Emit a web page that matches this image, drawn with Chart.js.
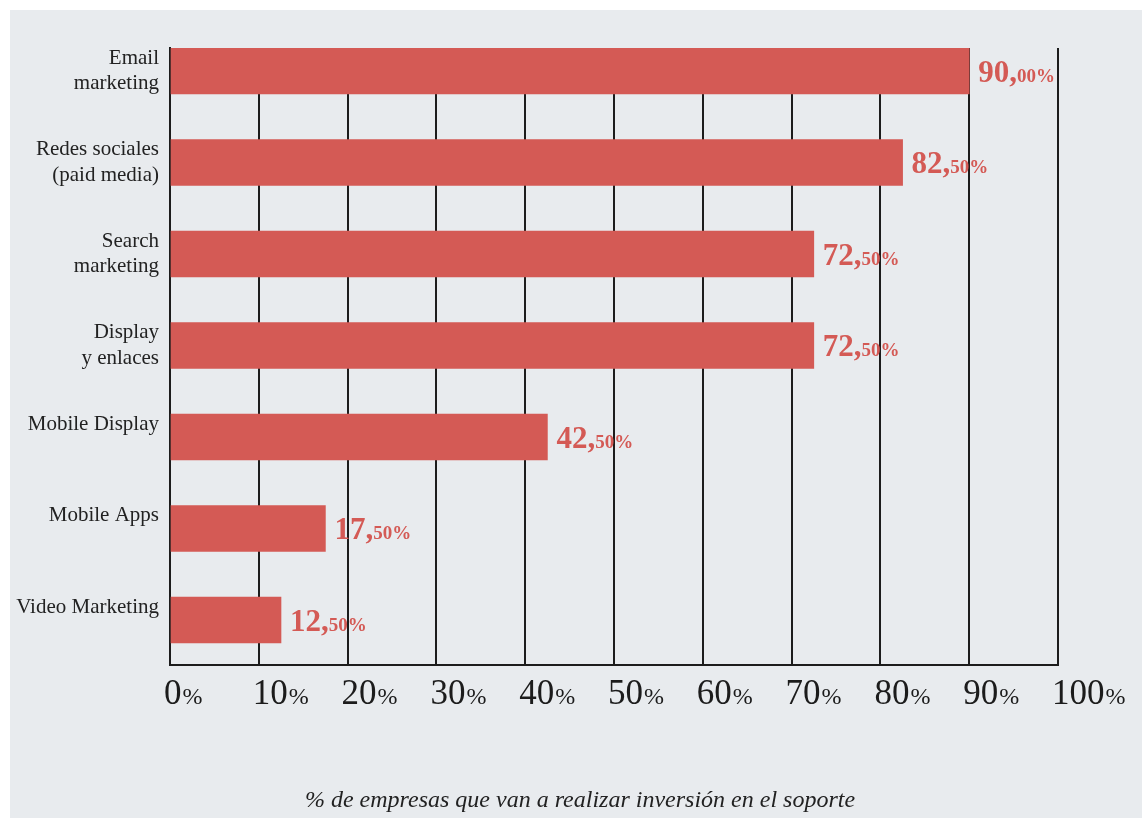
<!DOCTYPE html>
<html>
<head>
<meta charset="utf-8">
<script src="https://cdn.jsdelivr.net/npm/chart.js@4"></script>
<style>
  html, body { margin: 0; padding: 0; background: #fff; }
  #myChart { position: absolute; left: 10px; top: 10px; background: #e8ebee; }
</style>
</head>
<body>
<canvas id="myChart" width="1132" height="808"></canvas>
<script>
const canvas = document.getElementById('myChart')

// categorias (de arriba a abajo) y porcentaje de empresas
const categories = [
    ['Email', 'marketing'],
    ['Redes sociales', '(paid media)'],
    ['Search', 'marketing'],
    ['Display', 'y enlaces'],
    ['Mobile Display', ''],
    ['Mobile Apps', ''],
    ['Video Marketing', '']
]
const values = [90, 82.5, 72.5, 72.5, 42.5, 17.5, 12.5]
const xTicks = [0, 10, 20, 30, 40, 50, 60, 70, 80, 90, 100]
const axisTitle = '% de empresas que van a realizar inversión en el soporte'

const red = '#d45a55'
const ink = '#1c1c1c'
const serif = '"Liberation Serif", "DejaVu Serif", serif'

// etiquetas de valor: parte entera grande, decimales pequeños ("90,00%")
const valueLabels = {
    id: 'valueLabels',
    afterDatasetsDraw(chart) {
        const ctx = chart.ctx
        const meta = chart.getDatasetMeta(0)
        ctx.save()
        ctx.fillStyle = red
        ctx.textBaseline = 'alphabetic'
        ctx.textAlign = 'left'
        meta.data.forEach((bar, i) => {
            const [ent, dec] = values[i].toFixed(2).split('.')
            const x = bar.x + 9
            const y = bar.y + 11
            ctx.font = `bold 31px ${serif}`
            ctx.fillText(ent + ',', x, y)
            const w = ctx.measureText(ent + ',').width
            ctx.font = `bold 19px ${serif}`
            ctx.fillText(dec + '%', x + w, y)
        })
        ctx.restore()
    }
}

// ticks del eje x con el signo % mas pequeño, y titulo del eje
const xTickLabels = {
    id: 'xTickLabels',
    afterDraw(chart) {
        const ctx = chart.ctx
        const scale = chart.scales.x
        const y = chart.chartArea.bottom + 39
        ctx.save()
        ctx.fillStyle = ink
        ctx.textBaseline = 'alphabetic'
        ctx.textAlign = 'left'
        xTicks.forEach(t => {
            const x = scale.getPixelForValue(t) - 6
            ctx.font = `35px ${serif}`
            ctx.fillText(String(t), x, y)
            const w = ctx.measureText(String(t)).width
            ctx.font = `24px ${serif}`
            ctx.fillText('%', x + w + 1, y)
        })
        ctx.fillStyle = '#222'
        ctx.textAlign = 'center'
        ctx.font = `italic 24px ${serif}`
        ctx.fillText(axisTitle, 570, 797)
        ctx.restore()
    }
}

const config = {
    type: 'bar',
    data: {
        datasets: [{
            data: values.map((v, i) => ({x: v, y: i})),
            backgroundColor: red,
            barThickness: 46
        }]
    },
    options: {
        indexAxis: 'y',
        responsive: false,
        animation: false,
        devicePixelRatio: 1,
        layout: {
            padding: {top: 38, right: 84, left: 0, bottom: 0}
        },
        scales: {
            x: {
                type: 'linear',
                min: 0,
                max: 100,
                ticks: {display: false, stepSize: 10},
                grid: {color: ink, lineWidth: 2, drawTicks: false},
                border: {display: true, color: ink, width: 2},
                afterFit: (scale) => { scale.height = 153 }
            },
            y: {
                type: 'linear',
                reverse: true,
                offset: false,
                min: -0.251,
                max: 6.492,
                afterBuildTicks: (scale) => {
                    scale.ticks = categories.map((_, i) => ({value: i}))
                },
                ticks: {
                    autoSkip: false,
                    padding: 11,
                    color: '#222',
                    font: {family: serif, size: 21, lineHeight: 1.2},
                    callback: (v) => categories[v]
                },
                grid: {display: false, drawTicks: false},
                border: {display: true, color: ink, width: 2},
                afterFit: (scale) => { scale.width = 160 }
            }
        },
        plugins: {
            legend: {display: false},
            tooltip: {enabled: false}
        }
    },
    plugins: [valueLabels, xTickLabels]
}

const myChart = new Chart(canvas, config)
</script>
</body>
</html>
